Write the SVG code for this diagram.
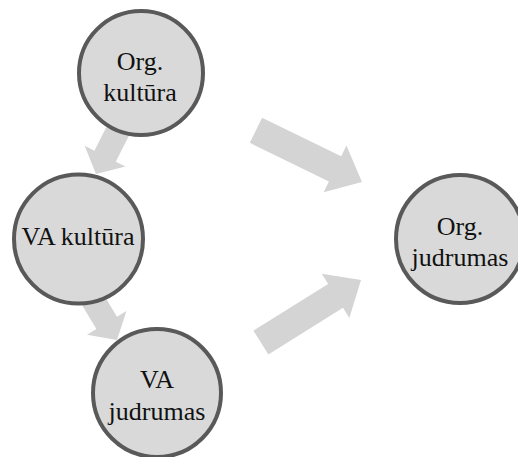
<svg xmlns="http://www.w3.org/2000/svg" width="518" height="457" viewBox="0 0 518 457">
  <style>
    .arrow { fill: #d4d4d4; }
    .node circle { fill: #d9d9d9; stroke: #595959; stroke-width: 4; }
    .node text { font-family: "Liberation Serif", "Times New Roman", serif; font-size: 26px; fill: #111; text-anchor: middle; }
  </style>
  <defs>
    <!-- block arrow, tip at origin, pointing along +x -->
    <polygon id="bigArrow" points="-118,-14 -30,-14 -30,-26 0,0 -30,26 -30,14 -118,14"/>
    <polygon id="smallArrow" points="-60,-12 -20,-12 -20,-23 0,0 -20,23 -20,12 -60,12"/>
  </defs>

  <g id="connectors" class="arrow">
    <use href="#smallArrow" transform="translate(96,174) rotate(117)"/>
    <use href="#smallArrow" transform="translate(117,340) rotate(59)"/>
    <use href="#bigArrow" transform="translate(362,182) rotate(26)"/>
    <use href="#bigArrow" transform="translate(361,280) rotate(-32)"/>
  </g>

  <g id="org-kultura" class="node">
    <circle cx="141" cy="73" r="62"/>
    <text x="140" y="70">Org.</text>
    <text x="140" y="101">kultūra</text>
  </g>

  <g id="va-kultura" class="node">
    <circle cx="78.5" cy="239" r="64.5"/>
    <text x="78" y="245">VA kultūra</text>
  </g>

  <g id="va-judrumas" class="node">
    <circle cx="157" cy="393" r="64"/>
    <text x="157" y="388">VA</text>
    <text x="157" y="420">judrumas</text>
  </g>

  <g id="org-judrumas" class="node">
    <circle cx="460" cy="239" r="64"/>
    <text x="460" y="235">Org.</text>
    <text x="460" y="266">judrumas</text>
  </g>
</svg>
